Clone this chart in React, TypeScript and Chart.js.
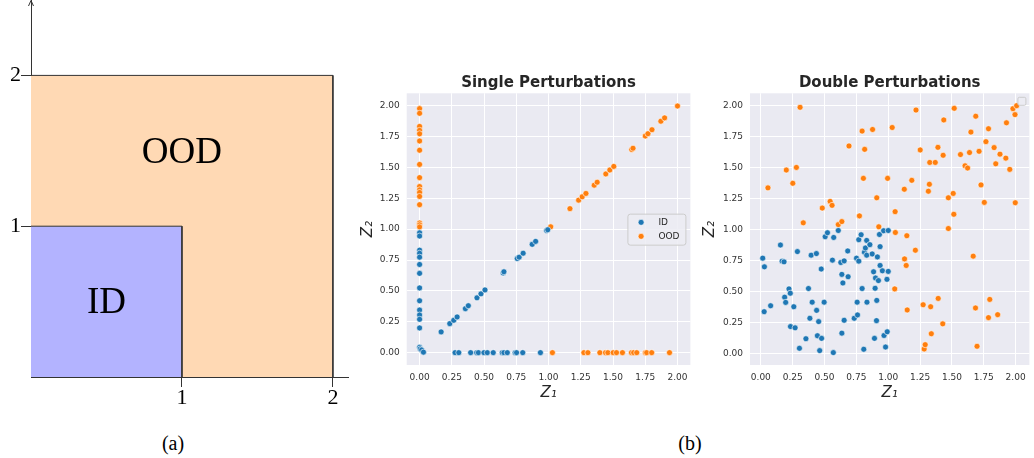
import React, { useEffect, useRef } from "react";
import { Chart, registerables } from "chart.js";

Chart.register(...registerables);

// ---------- Panel (a): schematic ----------
const idSquareX = [0, 1, 1];
const idSquareY = [1, 1, 0];
const oodSquareX = [0, 2, 2];
const oodSquareY = [2, 2, 0];
const schematicTicks = [1, 2];
const regionNames = ["ID", "OOD"];
const regionLabelX = [0.5, 1.0];
const regionLabelY = [0.5, 1.5];

// ---------- Panel (b): scatter tick labels ----------
const tickValues = [0, 0.25, 0.5, 0.75, 1.0, 1.25, 1.5, 1.75, 2.0];
const tickLabels = ["0.00", "0.25", "0.50", "0.75", "1.00", "1.25", "1.50", "1.75", "2.00"];
const seriesNames = ["ID", "OOD"];

// ---------- Single Perturbations ----------
const singleIdX = [
  0, 0, 0, 0, 0, 0, 0, 0, 0, 0, 0, 0, 0, 0, 0.005, 0.016, 0.03,
  0.167, 0.234, 0.265, 0.291, 0.355, 0.378, 0.445, 0.476, 0.507, 0.648, 0.654, 0.757, 0.772, 0.803, 0.873, 0.9, 0.985, 0.994,
  0.275, 0.304, 0.396, 0.443, 0.456, 0.499, 0.525, 0.571, 0.641, 0.654, 0.68, 0.741, 0.752, 0.8, 0.937,
];
const singleIdY = [
  0.97, 0.944, 0.83, 0.805, 0.773, 0.714, 0.642, 0.524, 0.42, 0.345, 0.305, 0.27, 0.2, 0.043, 0.03, 0.022, 0.004,
  0.168, 0.235, 0.262, 0.289, 0.356, 0.38, 0.444, 0.476, 0.508, 0.645, 0.655, 0.762, 0.773, 0.805, 0.877, 0.901, 0.99, 0.995,
  0, 0, 0, 0, 0, 0, 0, 0, 0, 0, 0, 0, 0, 0, 0,
];
const singleOodX = [
  0, 0, 0, 0, 0, 0, 0, 0, 0, 0, 0, 0, 0, 0, 0, 0, 0,
  1.017, 1.166, 1.233, 1.261, 1.29, 1.354, 1.377, 1.444, 1.475, 1.506, 1.645, 1.655, 1.75, 1.771, 1.802, 1.871, 1.9, 2.0,
  1.03, 1.274, 1.305, 1.398, 1.442, 1.46, 1.501, 1.527, 1.573, 1.643, 1.66, 1.684, 1.751, 1.761, 1.8, 1.938,
];
const singleOodY = [
  1.976, 1.938, 1.832, 1.8, 1.772, 1.714, 1.639, 1.524, 1.417, 1.345, 1.318, 1.297, 1.265, 1.198, 1.05, 1.035, 1.018,
  1.019, 1.166, 1.235, 1.262, 1.289, 1.356, 1.38, 1.447, 1.479, 1.508, 1.645, 1.655, 1.754, 1.773, 1.805, 1.874, 1.901, 1.997,
  0, 0, 0, 0, 0, 0, 0, 0, 0, 0, 0, 0, 0, 0, 0, 0,
];

// ---------- Double Perturbations ----------
const doubleIdX = [
  0.015, 0.028, 0.026, 0.077, 0.154, 0.167, 0.182, 0.187, 0.195, 0.221, 0.231, 0.233, 0.259, 0.269, 0.287, 0.303,
  0.354, 0.374, 0.385, 0.395, 0.403, 0.436, 0.438, 0.444, 0.454, 0.462, 0.477, 0.474, 0.497, 0.505, 0.523, 0.562,
  0.569, 0.572, 0.608, 0.628, 0.636, 0.644, 0.636, 0.654, 0.654, 0.682, 0.685, 0.733, 0.751, 0.756, 0.759, 0.769,
  0.769, 0.787, 0.795, 0.808, 0.813, 0.821, 0.831, 0.831, 0.833, 0.856, 0.874, 0.885, 0.892, 0.897, 0.9, 0.908,
  0.91, 0.915, 0.923, 0.931, 0.936, 0.936, 0.954, 0.964, 0.967, 0.979, 0.99, 0.992, 1.0, 1.0,
];
const doubleIdY = [
  0.77, 0.7, 0.338, 0.386, 0.876, 0.746, 0.74, 0.455, 0.413, 0.522, 0.487, 0.218, 0.378, 0.208, 0.823, 0.043,
  0.12, 0.525, 0.285, 0.794, 0.415, 0.807, 0.349, 0.144, 0.258, 0.024, 0.123, 0.682, 0.415, 0.943, 0.975, 0.754,
  0.008, 0.937, 0.993, 0.735, 0.639, 0.57, 0.165, 0.748, 0.269, 0.828, 0.62, 0.285, 0.77, 0.415, 0.312, 0.919,
  0.746, 0.959, 0.525, 0.035, 0.818, 0.852, 0.913, 0.794, 0.415, 0.879, 0.804, 0.66, 0.123, 0.527, 0.61, 0.266,
  0.429, 0.78, 0.589, 0.961, 0.863, 0.711, 0.668, 0.991, 0.146, 0.053, 0.599, 0.176, 0.993, 0.663,
];
const doubleOodX = [
  0.056, 0.2, 0.251, 0.279, 0.308, 0.333, 0.482, 0.544, 0.559, 0.608, 0.636, 0.692, 0.774, 0.795, 0.805, 0.815,
  0.877, 0.91, 0.926, 0.995, 1.031, 1.056, 1.054, 1.051, 1.126, 1.128, 1.141, 1.146, 1.149, 1.185, 1.213, 1.218,
  1.251, 1.274, 1.282, 1.29, 1.315, 1.323, 1.326, 1.333, 1.338, 1.369, 1.39, 1.392, 1.431, 1.428, 1.436, 1.472,
  1.472, 1.51, 1.515, 1.518, 1.567, 1.603, 1.623, 1.638, 1.649, 1.667, 1.685, 1.687, 1.697, 1.713, 1.728, 1.754,
  1.767, 1.787, 1.787, 1.797, 1.831, 1.844, 1.859, 1.877, 1.923, 1.928, 1.954, 1.979, 1.995, 1.997, 2.008,
];
const doubleOodY = [
  1.337, 1.481, 1.374, 1.502, 1.987, 1.055, 1.174, 1.228, 1.196, 1.041, 1.065, 1.675, 1.111, 1.795, 1.414, 1.648,
  1.808, 1.257, 1.023, 1.414, 1.824, 0.977, 1.145, 0.522, 1.326, 0.764, 0.711, 0.951, 0.352, 1.398, 0.834, 1.965,
  1.643, 0.394, 0.037, 0.072, 1.31, 1.366, 1.542, 0.378, 0.16, 1.542, 1.664, 0.445, 1.6, 0.24, 1.885, 1.257,
  1.009, 1.292, 1.124, 1.979, 1.606, 1.515, 1.497, 1.622, 1.787, 0.786, 0.368, 1.915, 0.059, 1.632, 1.361, 1.22,
  1.71, 1.814, 0.29, 0.437, 1.662, 1.531, 0.314, 1.609, 1.577, 1.862, 1.486, 1.976, 1.928, 1.217, 2.0,
];

const ID_COLOR = "#1f77b4";
const OOD_COLOR = "#ff7f0e";
const TEXT = "#262626";

const pts = (xs: number[], ys: number[]) => xs.map((x, i) => ({ x, y: ys[i] }));

// ---------- Schematic chart ----------
const schematicPlugin = {
  id: "schematicDecor",
  afterDatasetsDraw(chart: any) {
    const { ctx, scales } = chart;
    ctx.save();
    ctx.fillStyle = "#000";
    ctx.font = '37px "Liberation Serif"';
    ctx.textAlign = "center";
    ctx.textBaseline = "middle";
    regionNames.forEach((name, i) => {
      ctx.fillText(name, scales.x.getPixelForValue(regionLabelX[i]), scales.y.getPixelForValue(regionLabelY[i]) + 2);
    });
    ctx.restore();
  },
  afterDraw(chart: any) {
    const { ctx, chartArea } = chart;
    const x0 = chartArea.left;
    const y0 = chartArea.top;
    ctx.save();
    ctx.strokeStyle = "#333";
    ctx.lineWidth = 1;
    ctx.beginPath();
    ctx.moveTo(x0 - 2.5, y0 + 6);
    ctx.lineTo(x0, y0 + 0.5);
    ctx.lineTo(x0 + 2.5, y0 + 6);
    ctx.stroke();
    ctx.restore();
  },
};

const schematicAxis = (min: number, max: number, fit: (s: any) => void) => ({
  type: "linear",
  min,
  max,
  afterBuildTicks: (a: any) => {
    a.ticks = schematicTicks.map((v) => ({ value: v }));
  },
  afterFit: (s: any) => {
    fit(s);
    s.paddingTop = 0;
    s.paddingBottom = 0;
    s.paddingLeft = 0;
    s.paddingRight = 0;
  },
  grid: {
    display: true,
    drawOnChartArea: false,
    drawTicks: true,
    tickLength: 10,
    color: "#333",
    tickColor: "#333",
    lineWidth: 1,
  },
  border: { display: true, color: "#333", width: 1 },
  ticks: {
    font: { family: "Liberation Serif", size: 22, lineHeight: 1 },
    color: "#000",
    padding: 0,
    callback: (v: number) => String(v),
  },
});

const makeSchematic = () => ({
  type: "line",
  data: {
    datasets: [
      {
        label: regionNames[0],
        data: pts(idSquareX, idSquareY),
        fill: "origin",
        backgroundColor: "#B3B3FF",
        borderColor: "#333",
        borderWidth: 1,
        pointRadius: 0,
        tension: 0,
        order: 0,
      },
      {
        label: regionNames[1],
        data: pts(oodSquareX, oodSquareY),
        fill: "origin",
        backgroundColor: "#FFD9B4",
        borderColor: "#333",
        borderWidth: 1,
        pointRadius: 0,
        tension: 0,
        order: 1,
      },
    ],
  },
  options: {
    animation: false,
    responsive: false,
    devicePixelRatio: 1,
    layout: { padding: { left: 0, top: 0, right: 12, bottom: 0 } },
    plugins: { legend: { display: false }, tooltip: { enabled: false }, title: { display: false } },
    scales: {
      x: schematicAxis(0, 2.1, (s: any) => {
        s.height = 43;
      }),
      y: schematicAxis(0, 2.5, (s: any) => {
        s.width = 31;
      }),
    },
  },
  plugins: [schematicPlugin],
});

// ---------- Scatter charts ----------
const bgPlugin = {
  id: "axesBg",
  beforeDraw(chart: any) {
    const { ctx, chartArea: a } = chart;
    ctx.save();
    ctx.fillStyle = "#EAEAF2";
    ctx.fillRect(a.left, a.top, a.right - a.left, a.bottom - a.top);
    ctx.restore();
  },
};

const roundRect = (ctx: any, x: number, y: number, w: number, h: number, r: number) => {
  ctx.beginPath();
  if (ctx.roundRect) ctx.roundRect(x, y, w, h, r);
  else ctx.rect(x, y, w, h);
};

const makeLegendPlugin = (mode: "full" | "empty") => ({
  id: "seabornLegend",
  afterDraw(chart: any) {
    const { ctx, chartArea: a } = chart;
    ctx.save();
    if (mode === "full") {
      const w = 58;
      const h = 31;
      const left = a.right - 5 - w;
      const top = (a.top + a.bottom) / 2 - h / 2;
      roundRect(ctx, left + 0.5, top + 0.5, w, h, 2.5);
      ctx.fillStyle = "rgba(236,236,243,0.85)";
      ctx.fill();
      ctx.strokeStyle = "#cccccc";
      ctx.lineWidth = 1;
      ctx.stroke();
      chart.data.datasets.forEach((ds: any, i: number) => {
        const cy = top + 8.7 + 14 * i;
        ctx.beginPath();
        ctx.arc(left + 13.7, cy, 3, 0, Math.PI * 2);
        ctx.fillStyle = ds.backgroundColor;
        ctx.fill();
        ctx.strokeStyle = "#fff";
        ctx.lineWidth = 0.6;
        ctx.stroke();
        ctx.fillStyle = TEXT;
        ctx.font = '9px "DejaVu Sans"';
        ctx.textAlign = "left";
        ctx.textBaseline = "middle";
        ctx.fillText(ds.label, left + 31, cy);
      });
    } else {
      const s = 8;
      roundRect(ctx, a.right - 4 - s + 0.5, a.top + 3.5 + 0.5, s, s, 1.5);
      ctx.fillStyle = "rgba(236,236,243,0.8)";
      ctx.fill();
      ctx.strokeStyle = "#cccccc";
      ctx.lineWidth = 1;
      ctx.stroke();
    }
    ctx.restore();
  },
});

type ScatterParams = {
  title: string;
  idX: number[];
  idY: number[];
  oodX: number[];
  oodY: number[];
  xMin: number;
  xMax: number;
  yMin: number;
  yMax: number;
  yAxisWidth: number;
  yTitlePad: number;
  padRight: number;
  legend: "full" | "empty";
};

const CH_H = 348;
const CHART_BOTTOM = 303;

const scatterAxis = (min: number, max: number, title: string, isX: boolean, p: ScatterParams) => ({
  type: "linear",
  min,
  max,
  afterBuildTicks: (a: any) => {
    a.ticks = tickValues.map((v) => ({ value: v }));
  },
  afterFit: (s: any) => {
    if (isX) s.height = CH_H - CHART_BOTTOM;
    else s.width = p.yAxisWidth;
  },
  grid: { display: true, drawTicks: false, color: "#ffffff", lineWidth: 1 },
  border: { display: false },
  ticks: {
    font: { family: "DejaVu Sans", size: 9 },
    color: "#333",
    padding: isX ? 7 : 7,
    callback: (v: number) => tickLabels[tickValues.indexOf(v)],
  },
  title: {
    display: true,
    text: title,
    color: TEXT,
    font: { family: "DejaVu Sans", size: 15, style: "italic" },
    padding: isX ? { top: 0, bottom: 7.5 } : { top: p.yTitlePad, bottom: 0 },
  },
});

const makeScatter = (p: ScatterParams) => ({
  type: "scatter",
  data: {
    datasets: [
      {
        label: seriesNames[0],
        data: pts(p.idX, p.idY),
        backgroundColor: ID_COLOR,
        borderColor: "#ffffff",
        borderWidth: 0.6,
        pointRadius: 3,
      },
      {
        label: seriesNames[1],
        data: pts(p.oodX, p.oodY),
        backgroundColor: OOD_COLOR,
        borderColor: "#ffffff",
        borderWidth: 0.6,
        pointRadius: 3,
      },
    ],
  },
  options: {
    animation: false,
    responsive: false,
    devicePixelRatio: 1,
    layout: { padding: { left: 0, top: 0, right: p.padRight, bottom: 0 } },
    plugins: {
      legend: { display: false },
      tooltip: { enabled: false },
      title: {
        display: true,
        text: p.title,
        fullSize: false,
        color: TEXT,
        font: { family: "DejaVu Sans", size: 15, weight: "bold" },
        padding: { top: 12, bottom: 1.3 },
      },
    },
    scales: {
      x: scatterAxis(p.xMin, p.xMax, "Z₁", true, p),
      y: scatterAxis(p.yMin, p.yMax, "Z₂", false, p),
    },
  },
  plugins: [bgPlugin, makeLegendPlugin(p.legend)],
});

function ChartCanvas(props: { make: () => any; left: number; top: number; width: number; height: number }) {
  const ref = useRef<HTMLCanvasElement | null>(null);
  useEffect(() => {
    if (!ref.current) return;
    const chart = new Chart(ref.current, props.make());
    return () => chart.destroy();
  }, []);
  return (
    <canvas
      ref={ref}
      width={props.width}
      height={props.height}
      style={{ position: "absolute", left: props.left, top: props.top, width: props.width, height: props.height }}
    />
  );
}

const captionStyle = (cx: number): React.CSSProperties => ({
  position: "absolute",
  left: cx - 50,
  top: 431,
  width: 100,
  textAlign: "center",
  fontFamily: '"Liberation Serif", serif',
  fontSize: 20,
  lineHeight: "24px",
  color: "#000",
});

export default function App() {
  return (
    <div style={{ position: "absolute", left: 0, top: 0, width: 1034, height: 458, background: "#fff", overflow: "hidden" }}>
      <ChartCanvas make={makeSchematic} left={0} top={0} width={360} height={420} />
      <ChartCanvas
        make={() =>
          makeScatter({
            title: "Single Perturbations",
            idX: singleIdX,
            idY: singleIdY,
            oodX: singleOodX,
            oodY: singleOodY,
            xMin: -0.1,
            xMax: 2.1,
            yMin: -0.1,
            yMax: 2.1,
            yAxisWidth: 51.7,
            yTitlePad: 4,
            padRight: 4,
            legend: "full",
          })
        }
        left={355}
        top={62}
        width={340}
        height={CH_H}
      />
      <ChartCanvas
        make={() =>
          makeScatter({
            title: "Double Perturbations",
            idX: doubleIdX,
            idY: doubleIdY,
            oodX: doubleOodX,
            oodY: doubleOodY,
            xMin: -0.085,
            xMax: 2.108,
            yMin: -0.092,
            yMax: 2.1,
            yAxisWidth: 60,
            yTitlePad: 11,
            padRight: 0,
            legend: "empty",
          })
        }
        left={690}
        top={62}
        width={344}
        height={CH_H}
      />
      <div style={captionStyle(173)}>(a)</div>
      <div style={captionStyle(690)}>(b)</div>
    </div>
  );
}
